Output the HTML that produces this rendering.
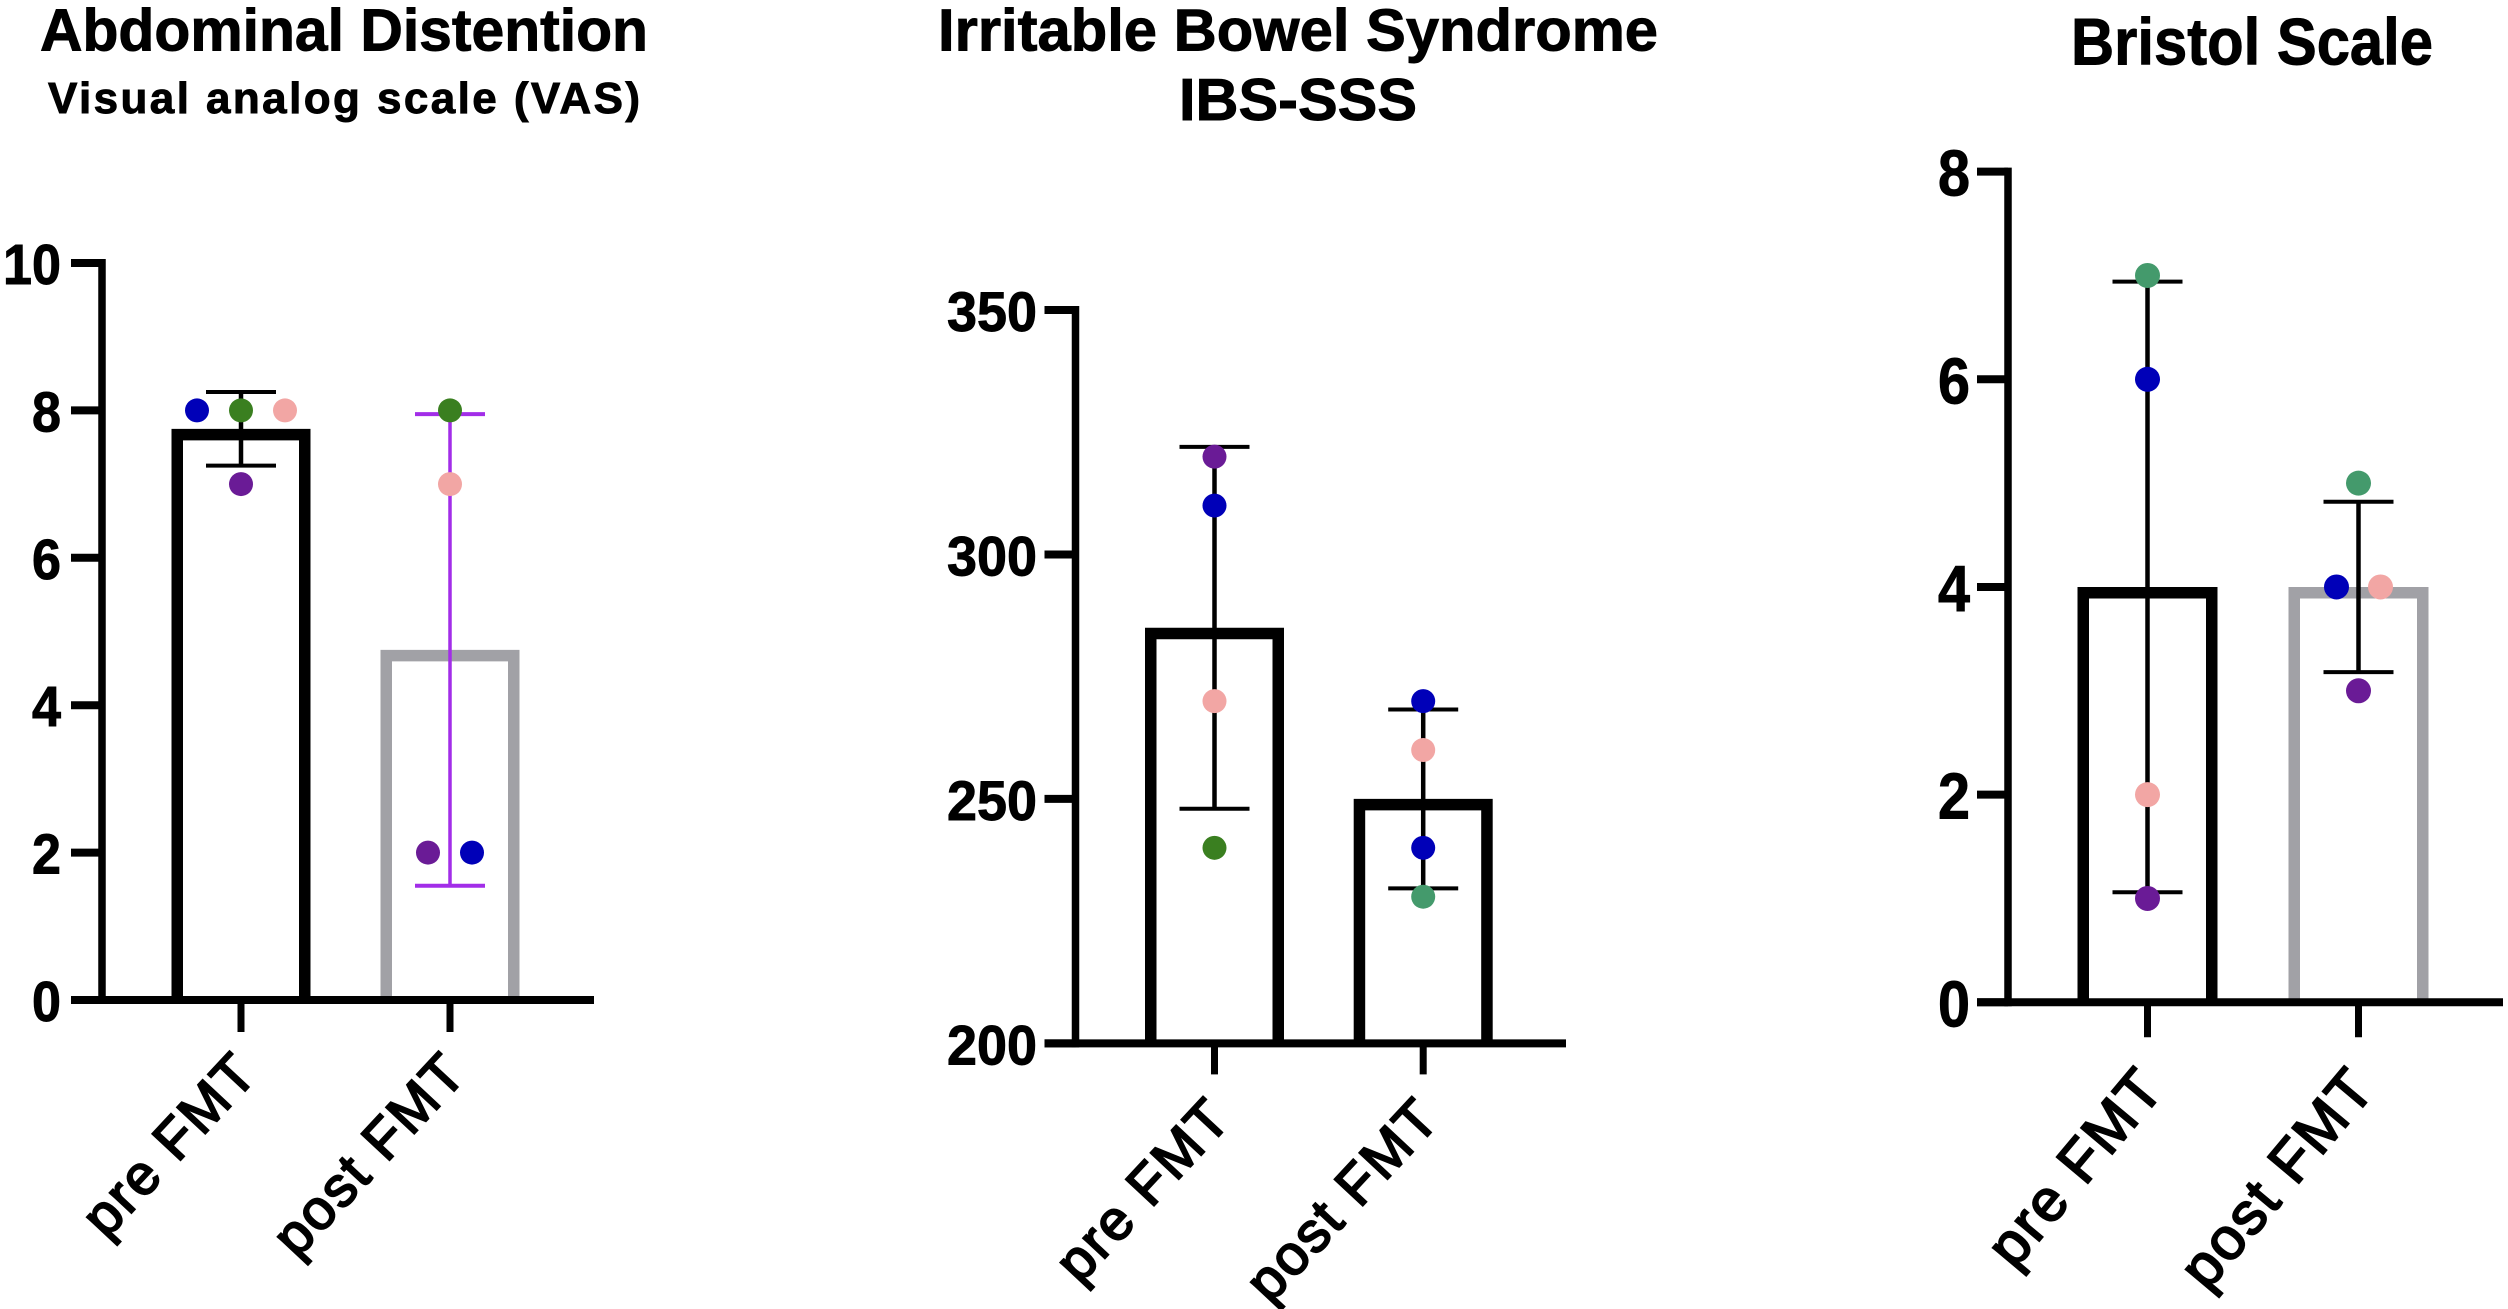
<!DOCTYPE html>
<html lang="en">
<head>
<meta charset="utf-8">
<title>FMT outcome bar charts</title>
<style>
  html, body { margin: 0; padding: 0; background: #fff; }
  svg { display: block; }
  text { font-family: "Liberation Sans", Arial, sans-serif; fill: #000; }
  .title { font-weight: 700; stroke: #000; stroke-width: 0.9; }
  .tick { font-weight: 700; stroke: #000; stroke-width: 0.9; }
  .cat { font-weight: 400; stroke: #000; stroke-width: 2; letter-spacing: 2px; }
</style>
</head>
<body>
<svg id="chart" width="2508" height="1309" viewBox="0 0 2508 1309" xmlns="http://www.w3.org/2000/svg">
  <rect x="0" y="0" width="2508" height="1309" fill="#ffffff"/>
  <text class="title" x="40" y="50.5" font-size="59" textLength="608" lengthAdjust="spacingAndGlyphs">Abdominal Distention</text>
  <text class="title" x="48" y="113" font-size="44" textLength="592" lengthAdjust="spacing">Visual analog scale (VAS)</text>
  <text class="title" x="938" y="50.5" font-size="59" textLength="720" lengthAdjust="spacingAndGlyphs">Irritable Bowel Syndrome</text>
  <text class="title" x="1179" y="120" font-size="59" textLength="238" lengthAdjust="spacingAndGlyphs">IBS-SSS</text>
  <text class="title" x="2071" y="64.5" font-size="66" textLength="362" lengthAdjust="spacingAndGlyphs">Bristol Scale</text>
</svg>
<script>
const categories = ['pre FMT', 'post FMT'];

const vasTicks = [0, 2, 4, 6, 8, 10];
const vasMeans = [7.75, 4.75];
const vasSds = [0.5, 3.2];
const vasPreValues = [8, 8, 8, 7];
const vasPreSubjects = ['blue', 'green', 'pink', 'purple'];
const vasPostValues = [8, 7, 2, 2];
const vasPostSubjects = ['green', 'pink', 'purple', 'blue'];

const ibsTicks = [200, 250, 300, 350];
const ibsMeans = [285, 250];
const ibsSds = [37, 18.3];
const ibsPreValues = [320, 310, 270, 240];
const ibsPreSubjects = ['purple', 'blue', 'pink', 'green'];
const ibsPostValues = [270, 260, 240, 230];
const ibsPostSubjects = ['blue', 'pink', 'blue', 'teal'];

const bristolTicks = [0, 2, 4, 6, 8];
const bristolMeans = [4, 4];
const bristolSds = [2.94, 0.82];
const bristolPreValues = [7, 6, 2, 1];
const bristolPreSubjects = ['teal', 'blue', 'pink', 'purple'];
const bristolPostValues = [5, 4, 4, 3];
const bristolPostSubjects = ['teal', 'blue', 'pink', 'purple'];

const palette = { blue: '#0000b8', green: '#3a7f20', pink: '#f2a6a4', purple: '#6a1b96', teal: '#449a6c' };

const svg = document.getElementById('chart');
const NS = 'http://www.w3.org/2000/svg';

function shape(tag, attrs) {
  const el = document.createElementNS(NS, tag);
  for (const k in attrs) el.setAttribute(k, attrs[k]);
  svg.appendChild(el);
  return el;
}

function drawPanel(cfg) {
  const yScale = v => cfg.y0 - (v - cfg.ticks[0]) * (cfg.y0 - cfg.yTop) / (cfg.ticks[cfg.ticks.length - 1] - cfg.ticks[0]);
  const xScale = i => cfg.x0 + i * cfg.step;

  // bars: open at the bottom so the baseline is just the x axis
  cfg.means.forEach((m, i) => {
    const sw = 11.5;
    const left = xScale(i) - cfg.barW / 2 + sw / 2;
    const right = xScale(i) + cfg.barW / 2 - sw / 2;
    const top = yScale(m) + sw / 2;
    const bar = shape('path', {
      d: 'M' + left + ' ' + cfg.y0 + ' V' + top + ' H' + right + ' V' + cfg.y0,
      fill: 'none',
      stroke: cfg.barColors[i],
      'stroke-width': sw
    });
    
    
  });

  // error bars
  cfg.means.forEach((m, i) => {
    const hi = yScale(m + cfg.sds[i]);
    const lo = yScale(m - cfg.sds[i]);
    const c = cfg.errColors[i];
    const w = cfg.errWidths[i];
    const stem = shape('line', { x1: xScale(i), x2: xScale(i), y1: hi, y2: lo, stroke: c, 'stroke-width': w });
    
    
    const capHi = shape('line', { x1: xScale(i) - 35, x2: xScale(i) + 35, y1: hi, y2: hi, stroke: c, 'stroke-width': 4 });
    
    
    const capLo = shape('line', { x1: xScale(i) - 35, x2: xScale(i) + 35, y1: lo, y2: lo, stroke: c, 'stroke-width': 4 });
    
    
  });

  // axes
  const yAxis = shape('line', { x1: cfg.axisX, x2: cfg.axisX, y1: cfg.yTop - 4, y2: cfg.y0 + 4, stroke: '#000', 'stroke-width': 7.5 });
  
  
  const xAxis = shape('line', { x1: cfg.axisX - 31, x2: cfg.xEnd, y1: cfg.y0, y2: cfg.y0, stroke: '#000', 'stroke-width': 8 });
  
  

  cfg.ticks.forEach(t => {
    const tk = shape('line', { x1: cfg.axisX - 31, x2: cfg.axisX, y1: yScale(t), y2: yScale(t), stroke: '#000', 'stroke-width': 8 });
    
    
    const label = String(t);
    const lb = shape('text', {
      class: 'tick',
      x: cfg.labelX,
      y: yScale(t) + cfg.labelDy,
      'text-anchor': 'end',
      'font-size': cfg.labelFont,
      textLength: label.length * cfg.labelAdv,
      lengthAdjust: 'spacingAndGlyphs'
    });
    lb.textContent = label;
    
    
  });

  categories.forEach((name, i) => {
    const tk = shape('line', { x1: xScale(i), x2: xScale(i), y1: cfg.y0, y2: cfg.y0 + cfg.tickLen, stroke: '#000', 'stroke-width': 7 });
    
    
    const lb = shape('text', {
      class: 'cat',
      'text-anchor': 'end',
      'font-size': cfg.catFont,
      transform: 'translate(' + (xScale(i) + cfg.catDx) + ' ' + (cfg.y0 + cfg.catDy) + ') rotate(' + cfg.catAngle + ')'
    });
    lb.textContent = name;
    
    
  });

  // points: equal values spread sideways around the category centre
  [[cfg.pre, cfg.preSubjects], [cfg.post, cfg.postSubjects]].forEach((grp, i) => {
    const values = grp[0];
    const subjects = grp[1];
    values.forEach((v, j) => {
      const same = values.filter(o => o === v).length;
      const rank = values.slice(0, j).filter(o => o === v).length;
      const dx = (rank - (same - 1) / 2) * 44;
      const dot = shape('circle', { cx: xScale(i) + dx, cy: yScale(v), r: cfg.r, fill: palette[subjects[j]] });
      
      
    });
  });
}

drawPanel({
  id: 'vas', ticks: vasTicks, means: vasMeans, sds: vasSds,
  pre: vasPreValues, preSubjects: vasPreSubjects, post: vasPostValues, postSubjects: vasPostSubjects,
  y0: 1000, yTop: 263, axisX: 102, xEnd: 594, x0: 241, step: 209, barW: 139, tickLen: 32,
  barColors: ['#000', '#a1a1a6'], errColors: ['#000', '#a22de8'], errWidths: [4.5, 3.5],
  labelX: 61, labelDy: 21, labelFont: 57, labelAdv: 29, catFont: 56, catAngle: -47, catDx: 19, catDy: 75, r: 12
});
drawPanel({
  id: 'ibs', ticks: ibsTicks, means: ibsMeans, sds: ibsSds,
  pre: ibsPreValues, preSubjects: ibsPreSubjects, post: ibsPostValues, postSubjects: ibsPostSubjects,
  y0: 1043.4, yTop: 310, axisX: 1075.5, xEnd: 1566, x0: 1214.5, step: 208.7, barW: 139, tickLen: 31,
  barColors: ['#000', '#000'], errColors: ['#000', '#000'], errWidths: [4.5, 4.5],
  labelX: 1037, labelDy: 21, labelFont: 56, labelAdv: 30, catFont: 56, catAngle: -47, catDx: 19, catDy: 77, r: 12
});
drawPanel({
  id: 'bristol', ticks: bristolTicks, means: bristolMeans, sds: bristolSds,
  pre: bristolPreValues, preSubjects: bristolPreSubjects, post: bristolPostValues, postSubjects: bristolPostSubjects,
  y0: 1002.3, yTop: 171.6, axisX: 2008, xEnd: 2503, x0: 2147.5, step: 211, barW: 140, tickLen: 35,
  barColors: ['#000', '#a1a1a6'], errColors: ['#000', '#000'], errWidths: [4.5, 4.5],
  labelX: 1970, labelDy: 24, labelFont: 65, labelAdv: 32, catFont: 59, catAngle: -50, catDx: 19, catDy: 87, r: 12.5
});
</script>
</body>
</html>
